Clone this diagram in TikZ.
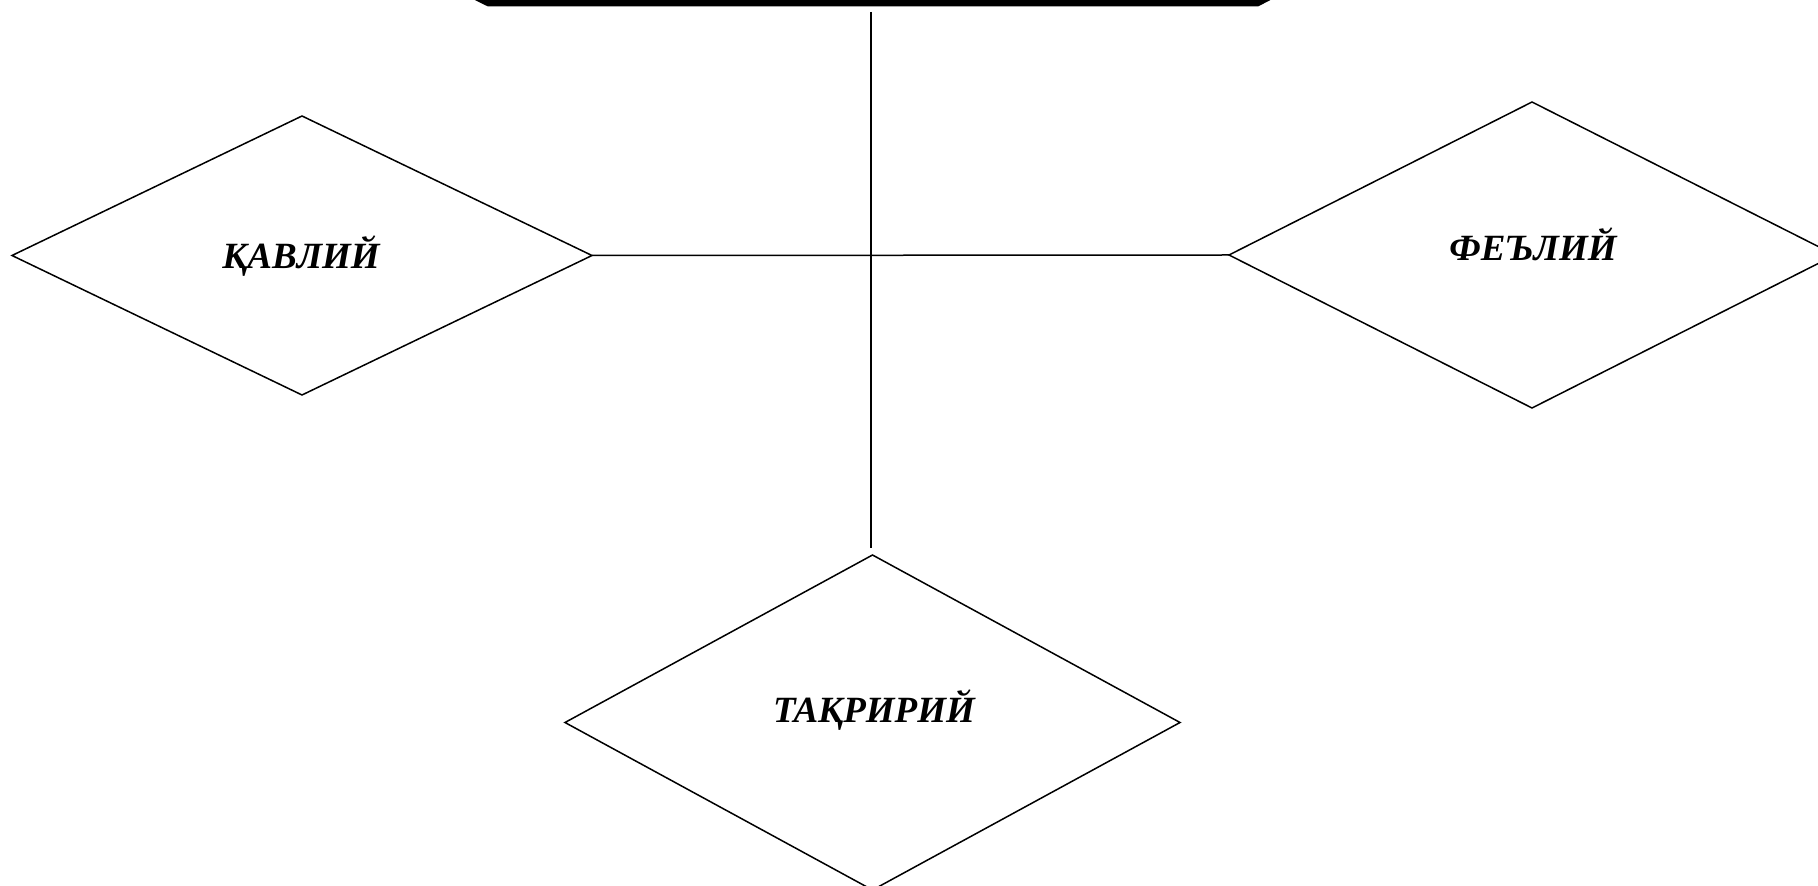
\documentclass[tikz,border=0pt]{standalone}
\usepackage{fontspec}
\setmainfont{Liberation Serif}
\usetikzlibrary{shapes.geometric}
\begin{document}
\begin{tikzpicture}[x=0.5pt,y=-0.5pt,
  dia/.style={draw,diamond,inner sep=0pt,outer sep=0pt,line width=0.75pt},
  lbl/.style={anchor=base,inner sep=0pt,font=\fontsize{18.5}{20}\selectfont\bfseries\itshape},
  conn/.style={line width=0.75pt}]
\useasboundingbox (0,0) rectangle (1818,886);
% top box (cut off by the page edge): its thick lower border
\fill (470.7,-2) -- (488,6.5) -- (1258,6.5) -- (1274.3,-2) -- cycle;
% diamonds
\node[dia,minimum width=290pt,minimum height=139.5pt] (kav) at (302,255.5) {};
\node[dia,minimum width=303pt,minimum height=153pt] (fel) at (1532,255) {};
\node[dia,minimum width=307.5pt,minimum height=167.5pt] (tak) at (872.5,722.5) {};
% labels
\node[lbl] (kavt) at (301,269) {ҚАВЛИЙ};
\node[lbl] (felt) at (1533,261) {ФЕЪЛИЙ};
\node[lbl] (takt) at (874,722) {ТАҚРИРИЙ};
% connectors
\coordinate (vtop) at (871,12);
\coordinate (vbot) at (871,548);
\draw[conn] (kav.east) -- (fel.west);
\draw[conn] (vtop) -- (vbot);
\end{tikzpicture}
\end{document}
